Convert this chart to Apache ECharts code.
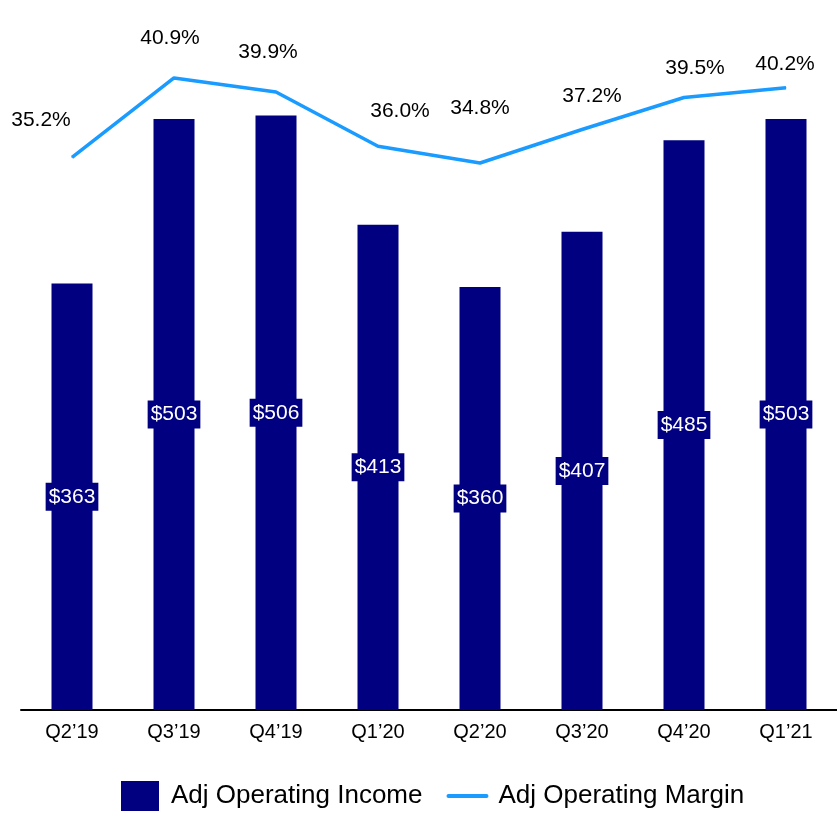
<!DOCTYPE html>
<html>
<head>
<meta charset="utf-8">
<script src="https://cdn.jsdelivr.net/npm/echarts@6/dist/echarts.min.js"></script>
<style>
  html, body { margin: 0; padding: 0; background: #fff; }
  #main { width: 837px; height: 816px; }
</style>
</head>
<body>
<div id="main"></div>
<script>
var categories = ["Q2\u201919", "Q3\u201919", "Q4\u201919", "Q1\u201920", "Q2\u201920", "Q3\u201920", "Q4\u201920", "Q1\u201921"];
var incomeValues = [363, 503, 506, 413, 360, 407, 485, 503];
var marginValues = [35.2, 40.9, 39.9, 36.0, 34.8, 37.2, 39.5, 40.2];
// label nudges for the margin labels (they sit irregularly in the original)
var marginLabelOffsets = [[-31, -26], [-4, -29], [-8, -29], [22, -24], [0, -44], [10, -22], [11, -18], [-1, -13]];

var FONT = "'Liberation Sans', Arial, sans-serif";
var chart = echarts.init(document.getElementById('main'));

var option = {
  animation: false,
  textStyle: { fontFamily: FONT },
  grid: { left: 21, right: 0, top: 5, bottom: 106 },
  legend: {
    bottom: 0,
    left: 116,
    itemWidth: 38,
    itemHeight: 30,
    itemGap: 24,
    textStyle: { fontSize: 26, color: '#000', fontFamily: FONT, padding: [0, 0, 0, 7] },
    data: [
      { name: 'Adj Operating Income', icon: 'rect' },
      { name: 'Adj Operating Margin', itemStyle: { opacity: 0 }, lineStyle: { width: 4, cap: 'round' } }
    ]
  },
  xAxis: {
    type: 'category',
    data: categories,
    axisLine: { lineStyle: { color: '#000', width: 2 } },
    axisTick: { show: false },
    axisLabel: { color: '#000', fontSize: 20, margin: 12, fontFamily: FONT }
  },
  yAxis: [
    { type: 'value', min: 0, max: 600, show: false },
    { type: 'value', min: -4.47, max: 46.14, show: false }
  ],
  series: [
    {
      name: 'Adj Operating Income',
      type: 'bar',
      barWidth: 41,
      data: incomeValues,
      itemStyle: { color: '#000080' },
      label: {
        show: true,
        position: 'inside',
        color: '#fff',
        fontSize: 21,
        fontFamily: FONT,
        backgroundColor: '#000080',
        padding: [4, 3, 3, 3],
        formatter: function (p) { return '$' + p.value; }
      }
    },
    {
      name: 'Adj Operating Margin',
      type: 'line',
      yAxisIndex: 1,
      data: marginValues.map(function (v, i) {
        return {
          value: v,
          label: { offset: marginLabelOffsets[i] }
        };
      }),
      symbol: 'circle',
      symbolSize: 1,
      lineStyle: { color: '#1A9BFF', width: 3.5 },
      itemStyle: { color: '#1A9BFF' },
      label: {
        show: true,
        position: 'top',
        distance: 0,
        color: '#000',
        fontSize: 21,
        fontFamily: FONT,
        formatter: function (p) { return p.value.toFixed(1) + '%'; }
      }
    }
  ]
};

chart.setOption(option);
</script>
</body>
</html>
